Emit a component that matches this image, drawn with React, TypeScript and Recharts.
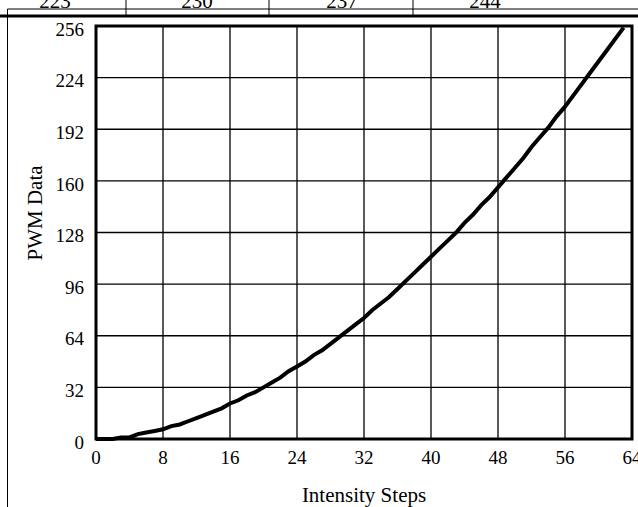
import { LineChart, Line, XAxis, YAxis, CartesianGrid, ReferenceArea } from "recharts";

// PWM value for each intensity step 0..63
const pwmValues = [
  0, 0, 0, 1, 1, 3, 4, 5, 6, 8, 9, 11, 13, 15, 17, 19,
  22, 24, 27, 29, 32, 35, 38, 42, 45, 48, 52, 55, 59, 63, 67, 71,
  75, 80, 84, 88, 93, 98, 103, 108, 113, 118, 123, 128, 134, 139, 145, 150,
  156, 162, 168, 174, 181, 187, 193, 200, 206, 213, 220, 227, 234, 241, 248, 255,
];
const xTicks = [0, 8, 16, 24, 32, 40, 48, 56, 64];
const yTicks = [0, 32, 64, 96, 128, 160, 192, 224, 256];
// bottom row of the table above the chart, cut off by the page edge
const tableValues = ["223", "230", "237", "244"];
const tableCenters = [55, 197, 342, 485];
const tableDividers = [126, 269, 413];

const data = pwmValues.map((v, i) => ({ step: i, pwm: v }));

const FONT = "'Liberation Serif', 'Times New Roman', serif";

export default function App() {
  return (
    <div style={{ position: "absolute", left: 0, top: 0, width: 638, height: 507, background: "#fff", overflow: "hidden" }}>
      <svg width={638} height={507} style={{ position: "absolute", left: 0, top: 0 }}>
        {tableValues.map((t, i) => (
          <text key={t} x={tableCenters[i]} y={8} textAnchor="middle" fontFamily={FONT} fontSize={21} fill="#000">
            {t}
          </text>
        ))}
        <line x1={7.5} y1={9} x2={638} y2={9} stroke="#000" strokeWidth={1} />
        {tableDividers.map((x) => (
          <line key={x} x1={x} y1={0} x2={x} y2={16} stroke="#000" strokeWidth={1} />
        ))}
        <line x1={0} y1={16} x2={638} y2={16} stroke="#000" strokeWidth={3} />
        <line x1={7.5} y1={9} x2={7.5} y2={507} stroke="#000" strokeWidth={1} />
      </svg>
      <div style={{ position: "absolute", left: 0, top: 0 }}>
        <LineChart width={638} height={507} data={data} margin={{ top: 26, right: 6, bottom: 0, left: 0 }}>
          <CartesianGrid stroke="#000" strokeWidth={1.3} fill="none" />
          <XAxis
            dataKey="step"
            type="number"
            domain={[0, 64]}
            ticks={xTicks}
            interval={0}
            height={68}
            tickLine={false}
            axisLine={false}
            tickSize={0}
            tickMargin={12}
            tick={{ fill: "#000", fontSize: 19, fontFamily: FONT }}
            label={{ value: "Intensity Steps", position: "insideBottom", offset: 5, fill: "#000", fontSize: 21, fontFamily: FONT }}
          />
          <YAxis
            type="number"
            domain={[0, 256]}
            ticks={yTicks}
            interval={0}
            width={96}
            tickLine={false}
            axisLine={false}
            tickSize={0}
            tickMargin={12}
            tick={{ fill: "#000", fontSize: 19, fontFamily: FONT, dy: 3 }}
            label={{
              content: () => (
                <text x={42} y={213} transform="rotate(-90, 42, 213)" textAnchor="middle" fontFamily={FONT} fontSize={21} fill="#000">
                  PWM Data
                </text>
              ),
            }}
          />
          <ReferenceArea x1={0} x2={64} y1={0} y2={256} fill="none" stroke="#000" strokeWidth={3} />
          <Line type="linear" dataKey="pwm" stroke="#000" strokeWidth={4} dot={false} isAnimationActive={false} />
        </LineChart>
      </div>
    </div>
  );
}
